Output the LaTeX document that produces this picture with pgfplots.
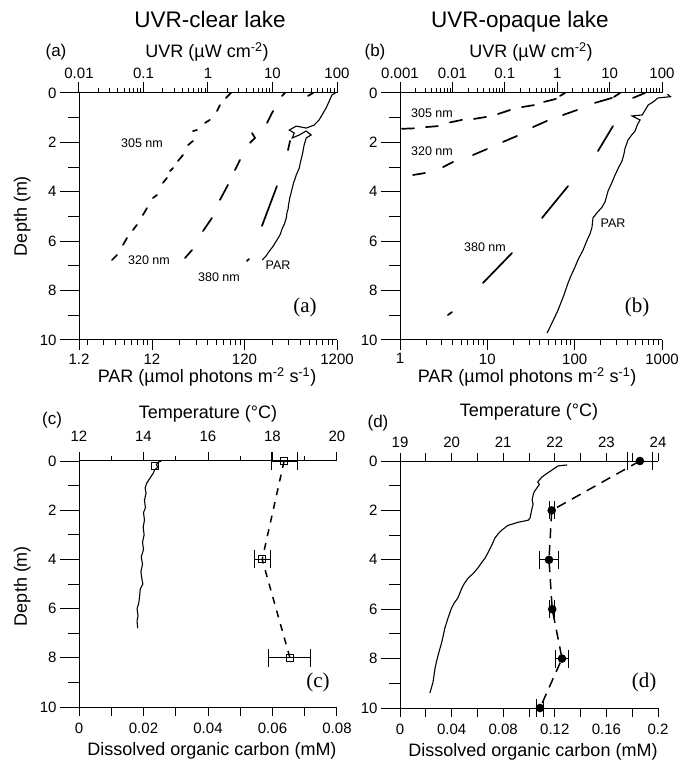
\documentclass[border=0pt]{standalone}
\usepackage{fontspec}
\setmainfont{Liberation Sans}
\newfontfamily\tnr{Liberation Serif}
\usepackage{pgfplots}
\pgfplotsset{compat=1.18}
\begin{document}
\begin{tikzpicture}[x=1pt,y=1pt]
\useasboundingbox (0pt,0pt) rectangle (679pt,763pt);
\pgfplotsset{
  base/.style={scale only axis, anchor=south west, ymin=0, ymax=10, y dir=reverse,
    tick align=outside, axis line style={line width=1pt},
    every tick/.style={line width=1pt, black},
    tick label style={font=\fontsize{15}{15}\selectfont},
    scaled x ticks=false, scaled y ticks=false,
    clip=false, unbounded coords=jump},
  yonly/.style={base, axis x line=none, axis y line*=left, xmin=0, xmax=1,
    ytick={0,2,4,6,8,10}, yticklabels={0,2,4,6,8,10}, minor ytick={1,3,5,7,9},
    major tick length=19pt, minor tick length=11pt},
  toponly/.style={base, axis y line=none, axis x line*=top},
  botonly/.style={base, axis y line=none, axis x line*=bottom},
  uv/.style={black, line width=1.7pt, line cap=round},
  prof/.style={black, line width=1.1pt},
  ebar/.style={error bars/.cd, x dir=both, x explicit,
    error bar style={line width=1pt, solid}, error mark=|,
    error mark options={line width=1pt, mark size=9pt, solid}},
}
% ================= Panel (a) =================
\begin{axis}[yonly, at={(79pt,423pt)}, width=258pt, height=247pt]
\end{axis}
\begin{axis}[toponly, at={(79pt,423pt)}, width=258pt, height=247pt,
  xmode=log, xmin=0.01, xmax=100,
  xtick={0.01,0.1,1,10,100}, xticklabels={0.01,0.1,1,10,100},
  minor xtick={0.02,0.03,0.04,0.05,0.06,0.07,0.08,0.09,0.2,0.3,0.4,0.5,0.6,0.7,0.8,0.9,2,3,4,5,6,7,8,9,20,30,40,50,60,70,80,90},
  major tick length=11pt, minor tick length=5pt]
% 305 nm
\addplot[uv] coordinates {
(2.27,0) (1.90,0.2) (nan,nan)
(1.53,0.49) (1.38,0.73) (nan,nan)
(1.07,1.09) (0.898,1.21) (nan,nan)
(0.675,1.50) (0.585,1.54) (nan,nan)
(0.585,1.94) (0.490,2.11) (nan,nan)
(0.409,2.51) (0.343,2.75) (nan,nan)
(0.287,3.04) (0.258,3.16) (nan,nan)
(0.231,3.44) (0.200,3.64) (nan,nan)
(0.162,4.13) (0.140,4.25) (nan,nan)
(0.113,4.66) (0.098,4.94) (nan,nan)
(0.079,5.34) (0.0687,5.55) (nan,nan)
(0.0555,5.87) (0.0481,6.15) (nan,nan)
(0.0388,6.56) (0.0325,6.76)};
% 320 nm
\addplot[uv] coordinates {
(15.6,0) (14.0,0.12) (nan,nan)
(10.2,0.73) (8.22,1.21) (nan,nan)
(4.81,1.62) (5.36,1.82) (4.48,2.02) (nan,nan)
(3.13,2.71) (2.62,3.12) (nan,nan)
(2.04,3.72) (1.53,4.33) (nan,nan)
(1.15,5.06) (0.836,5.59) (nan,nan)
(0.565,6.36) (0.44,6.68)};
% 380 nm
\addplot[uv] coordinates {
(42.5,0) (35.5,0.12) (nan,nan)
(18.7,1.94) (17.4,2.31) (nan,nan)
(11.7,3.77) (6.87,5.38) (nan,nan)
(4.32,6.72) (4.02,6.80)};
\end{axis}
\begin{axis}[botonly, at={(79pt,423pt)}, width=258pt, height=247pt,
  xmode=log, xmin=1.95, xmax=1200,
  xtick={1.95,12,120,1200}, xticklabels={1.2,12,120,1200},
  minor xtick={2.4,3.6,4.8,6,7.2,8.4,9.6,10.8,24,36,48,60,72,84,96,108,240,360,480,600,720,840,960,1080},
  major tick length=10pt, minor tick length=5pt]
\addplot[prof] coordinates {
(1150,0) (1060,0.08) (914,0.61) (769,1.09) (679,1.30) (557,1.42) (435,1.34) (366,1.50)
(414,1.62) (394,1.82) (469,1.70) (557,1.54) (631,1.70) (557,1.82) (530,2.1) (505,2.51)
(490,2.7) (480,2.85) (469,3.04) (455,3.15) (435,3.32) (420,3.5) (410,3.6) (400,3.75) (394,3.85)
(385,4.0) (380,4.1) (370,4.25) (366,4.37) (360,4.5) (355,4.7) (345,4.85) (340,5.06)
(330,5.2) (325,5.3) (308,5.47) (300,5.6) (290,5.75) (265,5.99) (245,6.2) (223,6.40)
(205,6.6) (187,6.76)};
\end{axis}
% ================= Panel (b) =================
\begin{axis}[yonly, at={(400pt,423pt)}, width=262pt, height=247pt]
\end{axis}
\begin{axis}[toponly, at={(400pt,423pt)}, width=262pt, height=247pt,
  xmode=log, xmin=0.001, xmax=100,
  xtick={0.001,0.01,0.1,1,10,100}, xticklabels={0.001,0.01,0.1,1,10,100},
  minor xtick={0.002,0.003,0.004,0.005,0.006,0.007,0.008,0.009,0.02,0.03,0.04,0.05,0.06,0.07,0.08,0.09,0.2,0.3,0.4,0.5,0.6,0.7,0.8,0.9,2,3,4,5,6,7,8,9,20,30,40,50,60,70,80,90},
  major tick length=11pt, minor tick length=5pt]
% 305 nm
\addplot[uv] coordinates {
(0.00109,1.45) (0.00185,1.43) (nan,nan)
(0.00313,1.38) (0.00531,1.34) (nan,nan)
(0.0090,1.19) (0.0152,1.09) (nan,nan)
(0.0258,1.05) (0.0438,0.97) (nan,nan)
(0.0741,0.85) (0.126,0.69) (nan,nan)
(0.213,0.57) (0.361,0.49) (nan,nan)
(0.560,0.36) (0.948,0.24) (nan,nan)
(1.13,0.12) (1.41,0)};
% 320 nm
\addplot[uv] coordinates {
(0.00177,3.32) (0.0030,3.24) (nan,nan)
(0.00662,3.0) (0.0103,2.79) (nan,nan)
(0.0247,2.51) (0.0457,2.27) (nan,nan)
(0.0925,1.98) (0.171,1.74) (nan,nan)
(0.345,1.38) (0.638,1.13) (nan,nan)
(1.29,0.89) (2.39,0.69) (nan,nan)
(5.26,0.40) (11.1,0.20) (nan,nan)
(12.1,0.16) (15.8,0)};
% 380 nm
\addplot[uv] coordinates {
(47.4,0) (28.0,0.2) (nan,nan)
(11.6,1.34) (6.0,2.35) (nan,nan)
(1.61,3.77) (0.513,5.06) (nan,nan)
(0.137,6.48) (0.0384,7.69) (nan,nan)
(0.0098,8.87) (0.0082,8.99)};
\end{axis}
\begin{axis}[botonly, at={(400pt,423pt)}, width=262pt, height=247pt,
  xmode=log, xmin=1, xmax=1000,
  xtick={1,10,100,1000}, xticklabels={1,10,100,1000},
  minor xtick={2,3,4,5,6,7,8,9,20,30,40,50,60,70,80,90,200,300,400,500,600,700,800,900},
  major tick length=10pt, minor tick length=5pt]
\addplot[prof] coordinates {
(1150,0.05) (1250,0.15) (900,0.2) (800,0.35) (693,0.49) (640,0.7) (592,0.89) (454,0.93)
(561,1.09) (520,1.3) (492,1.54) (450,1.7) (409,1.9) (378,2.23) (365,2.5) (349,2.75)
(320,3.0) (290,3.32) (265,3.65) (241,3.97) (223,4.4) (206,4.62) (180,4.85) (162,5.06)
(158,5.43) (150,5.7) (139,5.95) (125,6.35) (109,6.76) (101,7.04) (92,7.35) (84,7.69)
(75,8.2) (64.5,8.79) (56,9.25) (48.3,9.72)};
\end{axis}
% ================= Panel (c) =================
\begin{axis}[yonly, at={(79pt,56pt)}, width=258pt, height=246pt]
\end{axis}
\begin{axis}[toponly, at={(79pt,56pt)}, width=258pt, height=246pt,
  xmin=12, xmax=20, xtick={12,14,16,18,20}, xticklabels={12,14,16,18,20},
  minor xtick={13,15,17,19}, major tick length=9pt, minor tick length=5pt,
  xticklabel shift=7pt]
\addplot[prof] coordinates {
(14.55,0) (14.45,0.05) (14.4,0.15) (14.45,0.25) (14.35,0.35) (14.3,0.5) (14.2,0.7)
(14.1,0.9) (14.05,1.1) (14.08,1.3) (14.03,1.6) (14.06,1.9) (14.0,2.1) (14.03,2.4)
(13.99,2.7) (14.02,3.0) (13.97,3.3) (14.0,3.6) (13.93,3.9) (13.97,4.2) (13.92,4.5)
(13.95,4.8) (13.98,5.0) (13.9,5.2) (13.88,5.5) (13.85,5.8) (13.8,6.0) (13.83,6.3)
(13.8,6.5) (13.82,6.8)};
\addplot[only marks, mark=square, mark size=3.5pt, mark options={line width=0.9pt}] coordinates {(14.35,0.22)};
\end{axis}
\begin{axis}[botonly, at={(79pt,56pt)}, width=258pt, height=246pt,
  xmin=0, xmax=0.08, xtick={0,0.02,0.04,0.06,0.08}, xticklabels={0,0.02,0.04,0.06,0.08},
  minor xtick={0.01,0.03,0.05,0.07}, major tick length=9pt, minor tick length=9pt,
  xticklabel shift=3pt]
\addplot[black, line width=1.5pt, dash pattern=on 7pt off 7pt, mark=square, mark size=3.5pt,
  mark options={solid, line width=0.9pt}, ebar]
  coordinates {(0.0636,0) +- (0.004,0) (0.0568,4) +- (0.0025,0) (0.0654,8) +- (0.0065,0)};
\end{axis}
% ================= Panel (d) =================
\begin{axis}[yonly, at={(400pt,55pt)}, width=258pt, height=247pt]
\end{axis}
\begin{axis}[toponly, at={(400pt,55pt)}, width=258pt, height=247pt,
  xmin=19, xmax=24, xtick={19,20,21,22,23,24}, xticklabels={19,20,21,22,23,24},
  minor xtick={19.5,20.5,21.5,22.5,23.5}, major tick length=8pt, minor tick length=8pt,
  xticklabel shift=2pt]
\addplot[prof] coordinates {
(22.24,0.16) (22.06,0.2) (21.95,0.36) (21.85,0.5) (21.75,0.65) (21.67,0.85) (21.7,0.95)
(21.65,1.1) (21.6,1.25) (21.58,1.38) (21.56,1.58) (21.58,1.75) (21.56,1.9) (21.54,2.1)
(21.52,2.31) (21.48,2.4) (21.29,2.48) (21.09,2.61) (20.97,2.8) (20.9,2.95) (20.84,3.12)
(20.78,3.4) (20.72,3.65) (20.65,3.93) (20.58,4.12) (20.51,4.33) (20.42,4.55) (20.32,4.74)
(20.25,4.95) (20.2,5.14) (20.12,5.55) (20.05,5.75) (20.0,5.95) (19.93,6.36) (19.87,6.76)
(19.84,7.05) (19.81,7.33) (19.74,7.85) (19.71,8.1) (19.68,8.38) (19.64,8.95) (19.58,9.39)};
\end{axis}
\begin{axis}[botonly, at={(400pt,55pt)}, width=258pt, height=247pt,
  xmin=0, xmax=0.2, xtick={0,0.04,0.08,0.12,0.16,0.2}, xticklabels={0,0.04,0.08,0.12,0.16,0.2},
  minor xtick={0.02,0.06,0.10,0.14,0.18}, major tick length=9pt, minor tick length=9pt,
  xticklabel shift=3pt]
\addplot[black, line width=1.5pt, dash pattern=on 10pt off 7pt, mark=*, mark size=3.5pt,
  mark options={solid}, ebar]
  coordinates {(0.186,0) +- (0.0097,0) (0.1176,2) +- (0.002,0) (0.1155,4) +- (0.0074,0)
               (0.118,6) +- (0.002,0) (0.1256,8) +- (0.005,0) (0.1085,10) +- (0.003,0)};
\end{axis}
% ================= Text =================
\node[anchor=base, font=\fontsize{22.5}{22.5}\selectfont] at (210pt,735pt) {UVR-clear lake};
\node[anchor=base, font=\fontsize{22.5}{22.5}\selectfont] at (520pt,735pt) {UVR-opaque lake};
\node[anchor=base, font=\fontsize{17}{17}\selectfont] at (56pt,706pt) {(a)};
\node[anchor=base, font=\fontsize{17}{17}\selectfont] at (375pt,706pt) {(b)};
\node[anchor=base, font=\fontsize{17}{17}\selectfont] at (52pt,338pt) {(c)};
\node[anchor=base, font=\fontsize{17}{17}\selectfont] at (378pt,335pt) {(d)};
\node[anchor=base, font=\fontsize{18}{18}\selectfont] at (207pt,705pt) {UVR (µW cm\textsuperscript{-2})};
\node[anchor=base, font=\fontsize{18}{18}\selectfont] at (531pt,705pt) {UVR (µW cm\textsuperscript{-2})};
\node[anchor=base, font=\fontsize{18}{18}\selectfont] at (207pt,380pt) {PAR (µmol photons m\textsuperscript{-2} s\textsuperscript{-1})};
\node[anchor=base, font=\fontsize{18}{18}\selectfont] at (527pt,380pt) {PAR (µmol photons m\textsuperscript{-2} s\textsuperscript{-1})};
\node[anchor=base, font=\fontsize{18}{18}\selectfont] at (208pt,344pt) {Temperature (°C)};
\node[anchor=base, font=\fontsize{18}{18}\selectfont] at (529pt,346pt) {Temperature (°C)};
\node[anchor=base, font=\fontsize{18}{18}\selectfont] at (212pt,8pt) {Dissolved organic carbon (mM)};
\node[anchor=base, font=\fontsize{18}{18}\selectfont] at (533pt,6pt) {Dissolved organic carbon (mM)};
\node[anchor=base, rotate=90, font=\fontsize{18}{18}\selectfont] at (27pt,547pt) {Depth (m)};
\node[anchor=base, rotate=90, font=\fontsize{18}{18}\selectfont] at (27pt,177pt) {Depth (m)};
\node[anchor=base, font=\tnr\fontsize{21}{21}\selectfont] at (305pt,450pt) {(a)};
\node[anchor=base, font=\tnr\fontsize{21}{21}\selectfont] at (637pt,450pt) {(b)};
\node[anchor=base, font=\tnr\fontsize{21}{21}\selectfont] at (318pt,75pt) {(c)};
\node[anchor=base, font=\tnr\fontsize{21}{21}\selectfont] at (644pt,75pt) {(d)};
\node[font=\fontsize{12.5}{12.5}\selectfont] at (142pt,620pt) {305 nm};
\node[font=\fontsize{12.5}{12.5}\selectfont] at (149pt,503pt) {320 nm};
\node[font=\fontsize{12.5}{12.5}\selectfont] at (219pt,486pt) {380 nm};
\node[font=\fontsize{12.5}{12.5}\selectfont] at (278pt,498pt) {PAR};
\node[font=\fontsize{12.5}{12.5}\selectfont] at (432pt,650pt) {305 nm};
\node[font=\fontsize{12.5}{12.5}\selectfont] at (432pt,612pt) {320 nm};
\node[font=\fontsize{12.5}{12.5}\selectfont] at (485pt,516pt) {380 nm};
\node[font=\fontsize{12.5}{12.5}\selectfont] at (613pt,540pt) {PAR};
\end{tikzpicture}
\end{document}
